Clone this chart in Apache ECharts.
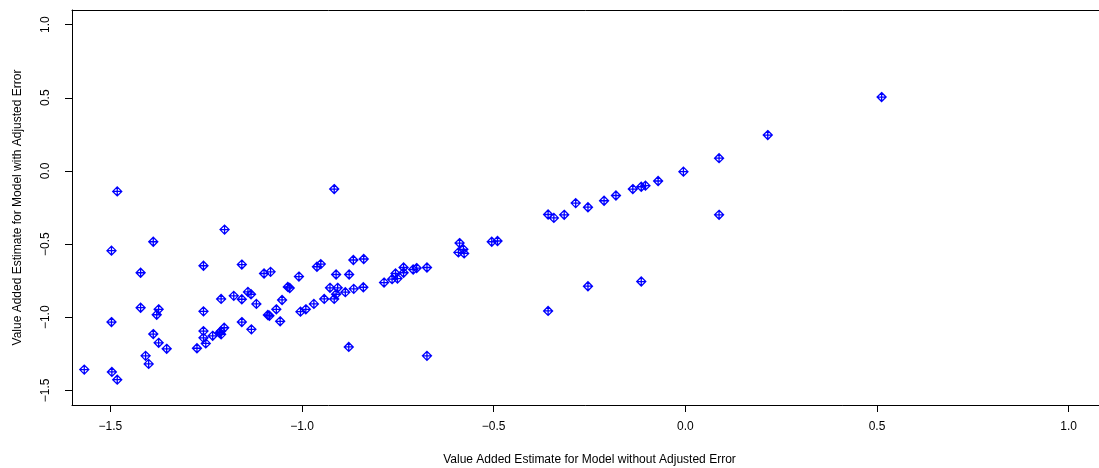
<!DOCTYPE html>
<html>
<head>
<meta charset="utf-8">
<script src="https://cdn.jsdelivr.net/npm/echarts@6/dist/echarts.min.js"></script>
<style>html,body{margin:0;padding:0;background:#fff}#c{width:1099px;height:468px}</style>
</head>
<body>
<div id="c"></div>
<script>
// x: Value Added Estimate for Model without Adjusted Error
const xVals = [-1.568,-1.496,-1.482,-1.482,-1.497,-1.497,-1.388,-1.421,-1.421,-1.374,-1.379,-1.388,-1.374,-1.353,-1.408,-1.400,
  -1.202,-1.257,-1.157,-1.257,-1.211,-1.178,-1.157,-1.141,-1.133,-1.119,-1.257,-1.257,-1.251,-1.233,-1.274,-1.211,-1.215,-1.211,-1.203,-1.157,-1.132,
  -1.099,-1.082,-0.916,-1.037,-1.032,-1.008,-1.052,-1.067,-1.089,-1.085,-1.057,-1.004,-0.990,-0.969,-0.942,-0.916,-0.911,-0.907,-0.927,-0.887,-0.865,-0.840,
  -0.911,-0.877,-0.961,-0.951,-0.866,-0.839,-0.786,-0.765,-0.756,-0.751,-0.735,-0.735,-0.710,-0.701,-0.674,-0.878,-0.674,
  -0.589,-0.592,-0.579,-0.577,-0.505,-0.490,-0.358,-0.343,-0.316,-0.286,-0.254,-0.212,-0.181,-0.137,-0.115,-0.104,-0.071,-0.005,
  0.088,0.088,-0.254,-0.115,-0.358,0.512,0.215];
// y: Value Added Estimate for Model with Adjusted Error
const yVals = [-1.358,-1.374,-1.427,-0.140,-0.545,-1.033,-0.484,-0.696,-0.935,-0.946,-0.983,-1.115,-1.175,-1.216,-1.264,-1.319,
  -0.401,-0.648,-0.640,-0.960,-0.875,-0.854,-0.877,-0.827,-0.843,-0.909,-1.095,-1.141,-1.179,-1.127,-1.212,-1.095,-1.106,-1.117,-1.072,-1.033,-1.083,
  -0.701,-0.690,-0.124,-0.793,-0.800,-0.722,-0.882,-0.946,-0.985,-0.990,-1.028,-0.962,-0.946,-0.909,-0.875,-0.875,-0.843,-0.799,-0.799,-0.829,-0.806,-0.795,
  -0.708,-0.708,-0.655,-0.637,-0.609,-0.602,-0.763,-0.740,-0.701,-0.736,-0.660,-0.696,-0.674,-0.664,-0.660,-1.203,-1.264,
  -0.493,-0.557,-0.536,-0.564,-0.484,-0.479,-0.298,-0.321,-0.300,-0.220,-0.248,-0.204,-0.168,-0.124,-0.108,-0.101,-0.069,-0.005,
  0.087,-0.300,-0.788,-0.756,-0.957,0.505,0.245];
const xTicks = [-1.5,-1.0,-0.5,0.0,0.5,1.0];
const yTicks = [-1.5,-1.0,-0.5,0.0,0.5,1.0];
const xTitle = 'Value Added Estimate for Model without Adjusted Error';
const yTitle = 'Value Added Estimate for Model with Adjusted Error';

const pts = xVals.map((x,i)=>[x,yVals[i]]);
const fmt = v => (v < 0 ? '\u2212' : '') + Math.abs(v).toFixed(1);
const font = {fontFamily:'Liberation Sans, Arial, sans-serif', fontSize:12, color:'#000'};
const boxLine = {show:true, onZero:false, lineStyle:{color:'#000', width:1}};

const chart = echarts.init(document.getElementById('c'), null, {renderer:'canvas'});
chart.setOption({
  animation:false,
  backgroundColor:'#fff',
  grid:{left:72, top:10, width:1035, height:395, show:false,
    containLabel:false, outerBoundsMode:'none'},
  xAxis:[{type:'value', min:-1.6, max:1.1, position:'bottom',
    name:xTitle, nameLocation:'middle', nameGap:49, nameTextStyle:font,
    axisLine:boxLine,
    axisTick:{show:true, customValues:xTicks, length:7, inside:false, lineStyle:{color:'#000'}},
    axisLabel:{customValues:xTicks, formatter:fmt, margin:16, ...font},
    splitLine:{show:false}},
   {type:'value', min:-1.6, max:1.1, position:'top',
    axisLine:boxLine, axisTick:{show:false}, axisLabel:{show:false}, splitLine:{show:false}}],
  yAxis:[{type:'value', min:-1.6, max:1.1, position:'left',
    name:yTitle, nameLocation:'middle', nameGap:48, nameTextStyle:font,
    axisLine:boxLine,
    axisTick:{show:true, customValues:yTicks, length:7, inside:false, lineStyle:{color:'#000'}},
    axisLabel:{customValues:yTicks, formatter:fmt, rotate:90, margin:20, ...font},
    splitLine:{show:false}},
   {type:'value', min:-1.6, max:1.1, position:'right',
    axisLine:boxLine, axisTick:{show:false}, axisLabel:{show:false}, splitLine:{show:false}}],
  series:[{type:'scatter', data:pts, xAxisIndex:0, yAxisIndex:0,
    symbol:'path://M0,-1L1,0L0,1L-1,0ZM0,-1L0,1M-1,0L1,0',
    symbolSize:9,
    itemStyle:{color:'rgba(0,0,0,0)', borderColor:'#0000ff', borderWidth:1.3, opacity:1},
    emphasis:{disabled:true}, silent:true}]
});
</script>
</body>
</html>
